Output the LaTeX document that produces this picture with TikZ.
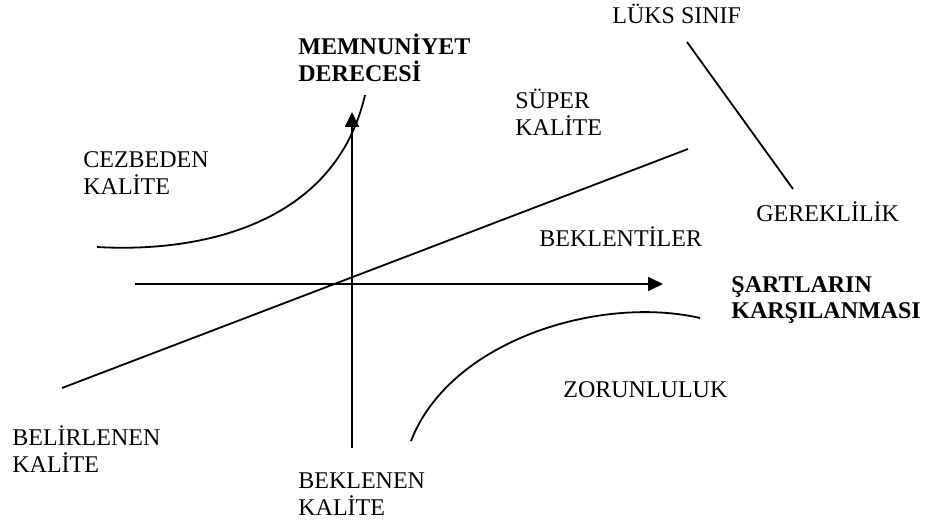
\documentclass[tikz,border=0pt]{standalone}
\usepackage{fontspec}
\setmainfont{Liberation Serif}
\usepackage{tikz}
\usetikzlibrary{arrows.meta}

\begin{document}
\begin{tikzpicture}[x=0.5pt, y=0.5pt,
	lbl/.style={anchor=base west, inner sep=0pt, align=left, font=\fontsize{12}{13.5}\selectfont},
	blbl/.style={lbl, font=\fontsize{12}{13.5}\selectfont\bfseries},
	curve/.style={line width=0.9pt},
	axis/.style={line width=0.9pt, -{Triangle[length=7.5pt, width=7pt]}}]
	\useasboundingbox (0,0) rectangle (925,525);
	% Axes
	\coordinate (vbot) at (352,77);
	\coordinate (vtop) at (352,413);
	\coordinate (hleft) at (135,241);
	\coordinate (hright) at (663,241);
	\draw[axis] (vbot) -- (vtop);
	\draw[axis] (hleft) -- (hright);
	% Labels (base = last line)
	\node[blbl] (memnuniyet) at (298,443) {MEMNUNİYET\\DERECESİ};
	\node[blbl] (sartlar) at (731,206) {ŞARTLARIN\\KARŞILANMASI};
	\node[lbl] (cezbeden) at (83,330) {CEZBEDEN\\KALİTE};
	\node[lbl] (super) at (515,389) {SÜPER\\KALİTE};
	\node[lbl] (beklentiler) at (539,278) {BEKLENTİLER};
	\node[lbl] (luks) at (612,501) {LÜKS SINIF};
	\node[lbl] (gereklilik) at (756,303) {GEREKLİLİK};
	\node[lbl] (zorunluluk) at (563,128) {ZORUNLULUK};
	\node[lbl] (belirlenen) at (12,53) {BELİRLENEN\\KALİTE};
	\node[lbl] (beklenen) at (298,10) {BEKLENEN\\KALİTE};
	% Quality lines
	\coordinate (qlow) at (62,137);
	\coordinate (qhigh) at (688,376);
	\coordinate (ltop) at (687,483);
	\coordinate (lbot) at (793,336);
	\draw[curve] (qlow) -- (qhigh);
	\draw[curve] (ltop) -- (lbot);
	% Curves
	\coordinate (cstart) at (97,278);
	\coordinate (cend) at (365,430);
	\draw[curve] (cstart) .. controls (200,272) and (335,300) .. (cend);
	\coordinate (zstart) at (411,84);
	\coordinate (zend) at (700,207);
	\draw[curve] (zstart) .. controls (450,185) and (600,230) .. (zend);
\end{tikzpicture}
\end{document}
